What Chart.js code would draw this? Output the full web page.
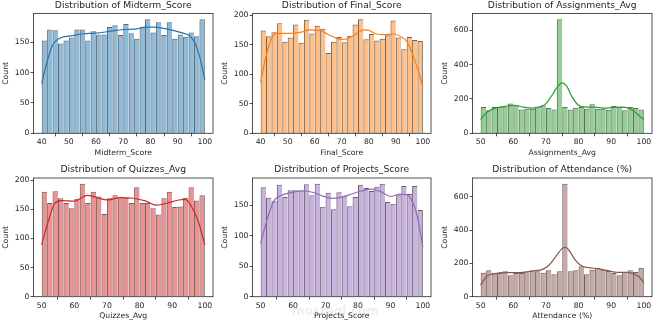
<!DOCTYPE html>
<html>
<head>
<meta charset="utf-8">
<script src="https://cdn.jsdelivr.net/npm/chart.js@4.4.1/dist/chart.umd.min.js"></script>
<style>
  body { margin: 0; background: #fff; width: 654px; height: 324px; overflow: hidden; position: relative; }
  canvas { position: absolute; }
  .wm { position: absolute; left: 292px; top: 304px; font: bold 12px "DejaVu Sans"; color: rgba(120,120,120,0.13); }
</style>
</head>
<body>
<div class="wm">mostaql.com</div>
<script>
// histogram counts per bin (30 bins each)
const midtermCounts = [153, 171, 170, 148, 153, 158, 171, 171, 153, 168, 163, 163, 175, 178, 162, 180, 165, 156, 175, 188, 166, 183, 162, 183, 156, 163, 159, 166, 160, 188];
const finalCounts = [174, 164, 171, 186, 155, 162, 184, 153, 192, 169, 182, 177, 136, 155, 163, 154, 165, 184, 193, 159, 168, 157, 160, 166, 191, 162, 142, 163, 158, 156];
const assignCounts = [153, 134, 153, 153, 156, 173, 167, 139, 143, 143, 156, 163, 147, 139, 665, 153, 139, 149, 153, 143, 170, 143, 143, 137, 159, 153, 134, 153, 147, 139];
const quizCounts = [180, 161, 181, 169, 161, 152, 168, 194, 161, 180, 172, 142, 169, 174, 171, 170, 161, 188, 161, 161, 152, 141, 169, 180, 154, 155, 170, 188, 165, 174];
const projectCounts = [179, 162, 156, 183, 163, 174, 174, 174, 184, 166, 185, 147, 170, 143, 171, 165, 148, 163, 183, 178, 173, 180, 185, 155, 152, 166, 181, 168, 181, 142];
const attendCounts = [144, 158, 144, 142, 152, 128, 142, 142, 152, 158, 152, 144, 158, 134, 152, 678, 152, 158, 182, 134, 162, 174, 162, 154, 142, 128, 148, 158, 148, 174];

// KDE curves, sampled by eye
const midtermKdeX = [40, 42, 44, 46, 48, 50, 55, 60, 65, 70, 75, 78, 81, 85, 88, 92, 94, 96, 98, 100];
const midtermKdeY = [82, 118, 145, 155, 159, 160, 164, 165, 168, 171, 172, 175, 175, 173, 170, 165, 162, 152, 128, 88];
const finalKdeX = [40, 42, 44, 46, 50, 55, 58, 62, 65, 68, 70, 72, 75, 78, 80, 83, 86, 89, 92, 94, 96, 98, 100];
const finalKdeY = [86, 130, 160, 169, 169, 171, 175, 174, 167, 161, 159, 160, 167, 175, 174, 168, 167, 168, 163, 156, 136, 110, 78];
const assignKdeX = [50, 52, 55, 58, 60, 63, 66, 68, 70, 72, 73.5, 75, 76.5, 78, 80, 82, 85, 88, 90, 93, 95, 97, 98.5, 100];
const assignKdeY = [80, 124, 149, 159, 163, 153, 147, 153, 173, 226, 271, 294, 271, 212, 163, 153, 153, 147, 150, 153, 150, 129, 104, 79];
const quizKdeX = [50, 52, 54, 56, 60, 64, 67, 70, 74, 78, 82, 85, 88, 92, 94, 96, 98, 100];
const quizKdeY = [89, 129, 160, 165, 164, 174, 170, 166, 170, 169, 164, 157, 160, 166, 167, 154, 129, 89];
const projectKdeX = [50, 52, 54, 57, 60, 63, 66, 69, 72, 75, 78, 81, 84, 87, 90, 93, 95, 97, 98.5, 100];
const projectKdeY = [87, 126, 156, 167, 171, 173, 171, 165, 161, 163, 168, 173, 176, 172, 164, 168, 167, 153, 126, 81];
const attendKdeX = [50, 52, 54, 57, 60, 63, 66, 69, 71, 73, 75, 76, 77, 79, 81, 83, 86, 89, 92, 95, 97, 98.5, 100];
const attendKdeY = [70, 125, 136, 144, 144, 146, 154, 164, 190, 240, 290, 296, 280, 220, 184, 174, 168, 156, 146, 146, 136, 120, 84];

// tick labels
const xTicks40 = [40, 50, 60, 70, 80, 90, 100];
const xTicks50 = [50, 60, 70, 80, 90, 100];
const yTicks150 = [0, 50, 100, 150];
const yTicks200 = [0, 50, 100, 150, 200];
const yTicks600 = [0, 200, 400, 600];

const FONT = 'DejaVu Sans';
const INK = '#262626';
Chart.defaults.font.family = FONT;
Chart.defaults.color = INK;

// page geometry (matplotlib subplot grid)
const cols = [
    { left: 0, width: 220, l: 33.5, r: 213 },
    { left: 218, width: 220, l: 252.5, r: 431 },
    { left: 436, width: 218, l: 472.5, r: 652 }
];
const rows = [
    { top: 0, height: 162, t: 13.5, b: 133.3, titleMid: 5.6, xTitle: 153.3 },
    { top: 162, height: 162, t: 178, b: 296.7, titleMid: 169.5, xTitle: 315.8 }
];

const panels = [
    { title: 'Distribution of Midterm_Score', xLabel: 'Midterm_Score', counts: midtermCounts, lo: 40, hi: 100, kx: midtermKdeX, ky: midtermKdeY, xTicks: xTicks40, yTicks: yTicks150, rgb: '31,119,180', col: 0, row: 0 },
    { title: 'Distribution of Final_Score', xLabel: 'Final_Score', counts: finalCounts, lo: 40, hi: 100, kx: finalKdeX, ky: finalKdeY, xTicks: xTicks40, yTicks: yTicks200, rgb: '255,127,14', col: 1, row: 0 },
    { title: 'Distribution of Assignments_Avg', xLabel: 'Assignments_Avg', counts: assignCounts, lo: 50, hi: 100, kx: assignKdeX, ky: assignKdeY, xTicks: xTicks50, yTicks: yTicks600, rgb: '44,160,44', col: 2, row: 0 },
    { title: 'Distribution of Quizzes_Avg', xLabel: 'Quizzes_Avg', counts: quizCounts, lo: 50, hi: 100, kx: quizKdeX, ky: quizKdeY, xTicks: xTicks50, yTicks: yTicks200, rgb: '214,39,40', col: 0, row: 1 },
    { title: 'Distribution of Projects_Score', xLabel: 'Projects_Score', counts: projectCounts, lo: 50, hi: 100, kx: projectKdeX, ky: projectKdeY, xTicks: xTicks50, yTicks: yTicks150, rgb: '148,103,189', col: 1, row: 1 },
    { title: 'Distribution of Attendance (%)', xLabel: 'Attendance (%)', counts: attendCounts, lo: 50, hi: 100, kx: attendKdeX, ky: attendKdeY, xTicks: xTicks50, yTicks: yTicks600, rgb: '140,86,75', col: 2, row: 1 }
];

// draws the four spines
const frame = {
    id: 'frame',
    afterDraw(chart) {
        const a = chart.chartArea;
        const ctx = chart.ctx;
        ctx.save();
        ctx.strokeStyle = INK;
        ctx.lineWidth = 0.8;
        ctx.strokeRect(a.left, a.top, a.right - a.left, a.bottom - a.top);
        ctx.restore();
    }
};

const tickFont = { size: 7.7 };
const titleSize = 9.2;
const yW = 32.5;

panels.forEach(function (p) {
    const c = cols[p.col], r = rows[p.row];
    const canvas = document.createElement('canvas');
    canvas.width = c.width;
    canvas.height = r.height;
    canvas.style.left = c.left + 'px';
    canvas.style.top = r.top + 'px';
    document.body.appendChild(canvas);

    const n = p.counts.length;
    const w = (p.hi - p.lo) / n;
    const margin = (p.hi - p.lo) * 0.05;
    const titleLH = titleSize * 1.2;
    const padTop = Math.max(0, r.titleMid - titleLH / 2 - r.top);
    const xH = r.xTitle - r.b + tickFont.size * 1.2 / 2;

    new Chart(canvas, {
        type: 'bar',
        data: {
            datasets: [{
                type: 'line',
                data: p.kx.map(function (x, i) { return { x: x, y: p.ky[i] }; }),
                borderColor: 'rgb(' + p.rgb + ')',
                borderWidth: 1.2,
                pointRadius: 0,
                fill: false,
                cubicInterpolationMode: 'monotone',
                order: 0
            }, {
                type: 'bar',
                data: p.counts.map(function (v, i) { return { x: p.lo + w * (i + 0.5), y: v }; }),
                backgroundColor: 'rgba(' + p.rgb + ',0.5)',
                borderColor: 'rgba(0,0,0,0.6)',
                borderWidth: function (ctx) {
                    return { top: 1, left: 1, right: ctx.dataIndex === n - 1 ? 1 : 0, bottom: 0 };
                },
                barPercentage: 1,
                categoryPercentage: 1,
                inflateAmount: 0,
                order: 1
            }]
        },
        options: {
            responsive: false,
            animation: false,
            devicePixelRatio: 1,
            layout: {
                padding: {
                    left: c.l - yW - c.left,
                    right: c.left + c.width - c.r,
                    top: padTop,
                    bottom: r.top + r.height - r.b - xH
                }
            },
            plugins: {
                legend: { display: false },
                tooltip: { enabled: false },
                title: {
                    display: true,
                    text: p.title,
                    fullSize: false,
                    color: INK,
                    font: { size: titleSize, weight: 'normal' },
                    padding: { top: 0, bottom: r.t - r.top - padTop - titleLH }
                }
            },
            scales: {
                x: {
                    type: 'linear',
                    min: p.lo - margin,
                    max: p.hi + margin,
                    offset: false,
                    border: { display: false },
                    grid: { drawOnChartArea: false, tickLength: 3, tickColor: INK, lineWidth: 0.8 },
                    ticks: { font: tickFont, padding: 1.5, maxRotation: 0, autoSkip: false },
                    title: { display: true, text: p.xLabel, font: tickFont, padding: 0 },
                    afterBuildTicks: function (s) { s.ticks = p.xTicks.map(function (v) { return { value: v }; }); },
                    afterFit: function (s) { s.height = xH; s.paddingLeft = 0; s.paddingRight = 0; }
                },
                y: {
                    min: 0,
                    max: Math.max.apply(null, p.counts) * 1.05,
                    border: { display: false },
                    grid: { drawOnChartArea: false, tickLength: 3, tickColor: INK, lineWidth: 0.8 },
                    ticks: { font: tickFont, padding: 1 },
                    title: { display: true, text: 'Count', font: tickFont, padding: 0 },
                    afterBuildTicks: function (s) { s.ticks = p.yTicks.map(function (v) { return { value: v }; }); },
                    afterFit: function (s) { s.width = yW; s.paddingTop = 0; s.paddingBottom = 0; }
                }
            }
        },
        plugins: [frame]
    });
});
</script>
</body>
</html>
